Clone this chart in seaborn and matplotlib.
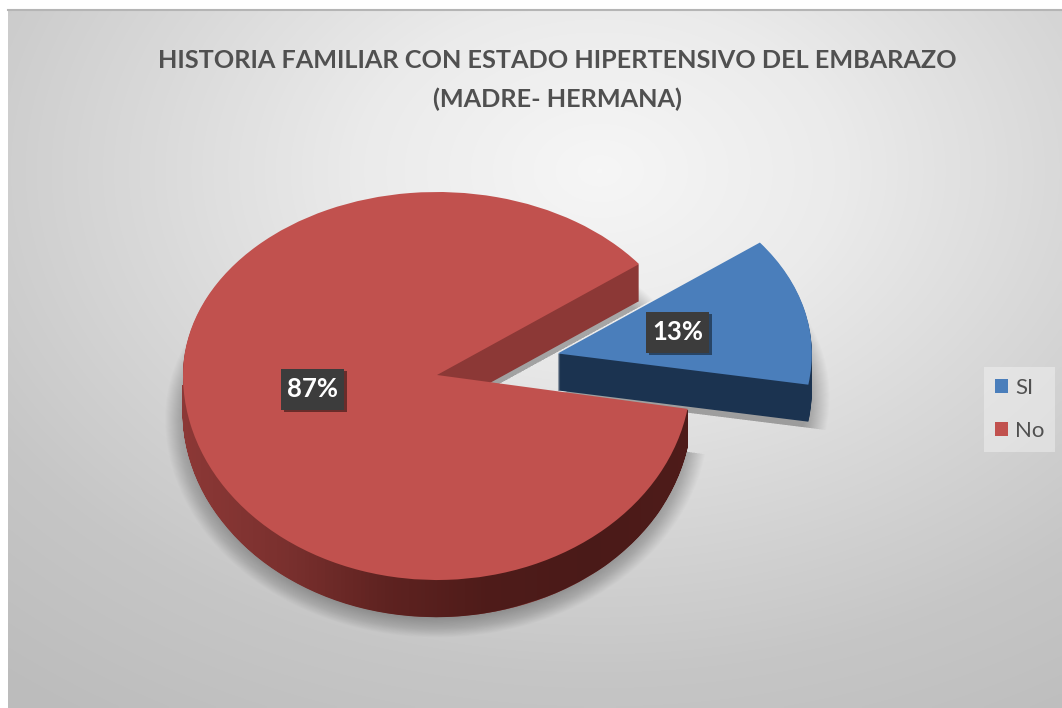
import matplotlib
matplotlib.use('Agg')
import matplotlib.pyplot as plt
import matplotlib.patheffects as pe
from matplotlib.patches import Rectangle
from matplotlib.path import Path
from matplotlib.transforms import Affine2D, IdentityTransform
import numpy as np
import seaborn as sns

# data
categories = ['SI', 'No']
values = [13, 87]
pct_labels = ['13%', '87%']
title = 'HISTORIA FAMILIAR CON ESTADO HIPERTENSIVO DEL EMBARAZO\n(MADRE- HERMANA)'

sns.set_theme(style='white')
plt.rcParams['font.family'] = ['Lato', 'DejaVu Sans']

W, H = 1062, 708
top_colors = ['#4a7ebb', '#c1514e']
wall_colors = ['#1b3350', '#8c3836']
text_grey = '#505050'

# pie in pixels: back half is squashed more than the front one (perspective)
cx, cy, rx, ry_back, ry_front, depth = 437, 375, 254, 183, 205, 37


def y_fwd(y):
    return np.where(np.asarray(y) >= 0, np.asarray(y) * ry_back, np.asarray(y) * ry_front)


def y_inv(v):
    return np.where(np.asarray(v) >= 0, np.asarray(v) / ry_back, np.asarray(v) / ry_front)


fig = plt.figure(figsize=(W / 100, H / 100), dpi=100, facecolor='white')

# background, radial grey
bg = fig.add_axes([8 / W, 0, 1 - 8 / W, 1 - 10 / H])
yy, xx = np.mgrid[10:H:200j, 8:W:300j]
dist = np.hypot((xx - 600) / 900, (yy - 170) / 640)
bg_cmap = sns.blend_palette(['#f6f6f6', '#ebebeb', '#d8d8d8', '#c6c6c6', '#bcbcbc'], as_cmap=True)
bg.imshow(dist, cmap=bg_cmap, vmin=0, vmax=1.05, aspect='auto', interpolation='bilinear')
bg.set_xticks([])
bg.set_yticks([])
for side in ['left', 'right', 'bottom']:
    bg.spines[side].set_visible(False)
bg.spines['top'].set_color('#b5b5b5')
bg.spines['top'].set_linewidth(1.5)

ax = fig.add_axes([0, 0, 1, 1])
ax.patch.set_alpha(0)
pie_args = dict(startangle=-9.5, explode=[0.49, 0], counterclock=True)


def shifted(d):
    return ax.transData + Affine2D().translate(0, -d)


# soft shadow
for i in range(24):
    r = 1.07 - i * 0.004
    wedges, _ = ax.pie(values, radius=r, colors=['black', 'black'],
                       wedgeprops=dict(linewidth=0, alpha=0.012), **pie_args)
    for w in wedges:
        w.set_transform(shifted(depth + 6))

# walls, stacked layers from the bottom up
red_layers = []
for d in range(depth, 0, -1):
    wedges, _ = ax.pie(values, colors=wall_colors, wedgeprops=dict(linewidth=0), **pie_args)
    for w in wedges:
        w.set_transform(shifted(d))
    red_layers.append((wedges[1], d))

# top faces, blue first so the red one covers the blue wall
red_top, _ = ax.pie(values, colors=['none', top_colors[1]], wedgeprops=dict(linewidth=0, zorder=3), **pie_args)
blue_top, _ = ax.pie(values, colors=[top_colors[0], 'none'], wedgeprops=dict(linewidth=0, zorder=2.5), **pie_args)

ax.set_aspect('auto')
ax.set_yscale('function', functions=(y_fwd, y_inv))
ax.set_xlim(-cx / rx, (W - cx) / rx)
ax.set_ylim((cy - H) / ry_front, cy / ry_back)
ax.axis('off')

# gradient on the round red wall
wall_cmap = sns.blend_palette(['#8c3836', '#7a302e', '#5e2220', '#4e1b19', '#4a1a18', '#4e1b19'], as_cmap=True)
grad = ax.pcolormesh(np.linspace(-1.01, 1.01, 129), [-1.3, -0.05], np.linspace(0, 1, 128).reshape(1, -1),
                     cmap=wall_cmap, zorder=1.5, shading='flat', edgecolors='none')
ax.set_xlim(-cx / rx, (W - cx) / rx)
ax.set_ylim((cy - H) / ry_front, cy / ry_back)
clip_paths = [(ax.transData + Affine2D().translate(0, -d)).transform_path(w.get_path()) for w, d in red_layers]
grad.set_clip_path(Path.make_compound_path(*clip_paths), IdentityTransform())


def label(x, y, s):
    box = Rectangle(((x - 31.5) / W, 1 - (y + 20.5) / H), 63 / W, 41 / H, transform=fig.transFigure,
                    fc='#3c3c3c', ec='none', zorder=9)
    box.set_path_effects([pe.withSimplePatchShadow(offset=(2, -2), alpha=0.45, shadow_rgbFace='black')])
    fig.add_artist(box)
    fig.text(x / W, 1 - y / H, s, color='white', fontsize=18.5, fontweight='bold',
             ha='center', va='center', zorder=10)


label(677.5, 332, pct_labels[0])
label(312.5, 389, pct_labels[1])

fig.text(557 / W, 1 - 80 / H, title, color=text_grey, fontsize=18.2, fontweight='bold',
         ha='center', va='center', linespacing=1.8)

leg = fig.legend([blue_top[0], red_top[1]], categories, loc='center',
                 bbox_to_anchor=(1019.5 / W, 1 - 409.5 / H), frameon=True, fontsize=16,
                 handlelength=0.6, handleheight=0.6, handletextpad=0.3, labelspacing=1.05,
                 labelcolor=text_grey, borderpad=0.5, fancybox=False)
leg.get_frame().set_facecolor('white')
leg.get_frame().set_alpha(0.35)
leg.get_frame().set_linewidth(0)

fig.savefig('out.png', dpi=100)
